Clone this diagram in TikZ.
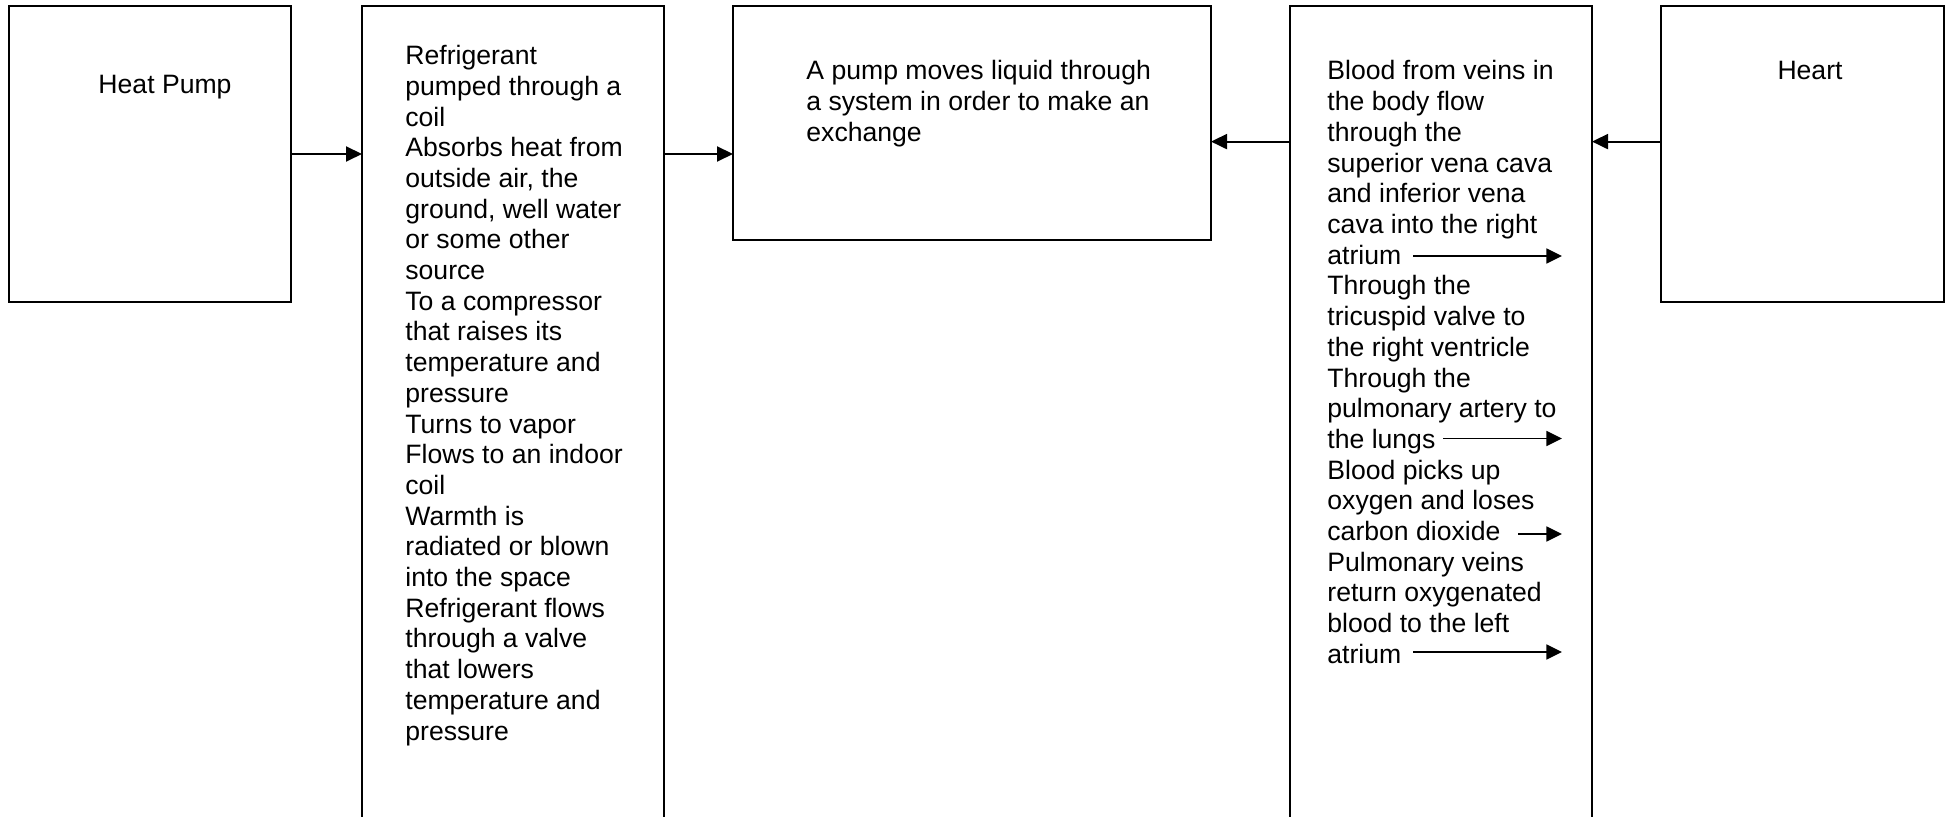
\documentclass[tikz,border=0pt]{standalone}
\usepackage{fontspec}
\setmainfont{Liberation Sans}
\usetikzlibrary{arrows.meta}
\begin{document}
\begin{tikzpicture}[x=0.5pt,y=-0.5pt,
  box/.style={draw,line width=1pt,rectangle,inner sep=0pt,outer sep=0pt,anchor=north west},
  txt/.style={font=\fontsize{13.3}{15.35}\selectfont,align=left,inner sep=0pt,anchor=base west},
  link/.style={line width=1pt,-{Triangle[length=8pt,width=7.5pt]}},
  pointer/.style={line width=0.85pt,-{Triangle[length=7.8pt,width=7.5pt]}},
]
\useasboundingbox (0,0) rectangle (1948,817);
\clip (0,0) rectangle (1948,817);

% the five boxes
\node[box,minimum width=141pt,minimum height=148pt] (hp) at (9,6) {};
\node[box,minimum width=151pt,minimum height=415pt] (ref) at (362,6) {};
\node[box,minimum width=239pt,minimum height=117pt] (pump) at (733,6) {};
\node[box,minimum width=151pt,minimum height=415pt] (blood) at (1290,6) {};
\node[box,minimum width=141.5pt,minimum height=148pt] (heart) at (1661,6) {};

% box texts (each placed by the baseline of its last line; 30.7 units per line)
\node[txt,anchor=base] (hpt) at (165,94) {Heat Pump};
\node[txt] (reft) at (405,740) {Refrigerant\\pumped through a\\coil\\Absorbs heat from\\outside air, the\\ground, well water\\or some other\\source\\To a compressor\\that raises its\\temperature and\\pressure\\Turns to vapor\\Flows to an indoor\\coil\\Warmth is\\radiated or blown\\into the space\\Refrigerant flows\\through a valve\\that lowers\\temperature and\\pressure};
\node[txt] (pumpt) at (806,141.4) {A pump moves liquid through\\a system in order to make an\\exchange};
\node[txt] (bloodt) at (1327,663.3) {Blood from veins in\\the body flow\\through the\\superior vena cava\\and inferior vena\\cava into the right\\atrium\\Through the\\tricuspid valve to\\the right ventricle\\Through the\\pulmonary artery to\\the lungs\\Blood picks up\\oxygen and loses\\carbon dioxide\\Pulmonary veins\\return oxygenated\\blood to the left\\atrium};
\node[txt,anchor=base] (heartt) at (1810,80) {Heart};

% connectors between the boxes
\coordinate (lowrow) at (0,154);
\coordinate (highrow) at (0,141.6);
\draw[link] (hp.east |- lowrow) -- (ref.west |- lowrow);
\draw[link] (ref.east |- lowrow) -- (pump.west |- lowrow);
\draw[link] (blood.west |- highrow) -- (pump.east |- highrow);
\draw[link] (heart.west |- highrow) -- (blood.east |- highrow);

% step arrows inside the blood box
\coordinate (s1) at (1413,256);   \coordinate (e1) at (1562,256);
\coordinate (s2) at (1443,438.5); \coordinate (e2) at (1562,438.5);
\coordinate (s3) at (1518,534);   \coordinate (e3) at (1562,534);
\coordinate (s4) at (1413,652);   \coordinate (e4) at (1562,652);
\draw[pointer] (s1) -- (e1);
\draw[pointer] (s2) -- (e2);
\draw[pointer] (s3) -- (e3);
\draw[pointer] (s4) -- (e4);
\end{tikzpicture}
\end{document}
